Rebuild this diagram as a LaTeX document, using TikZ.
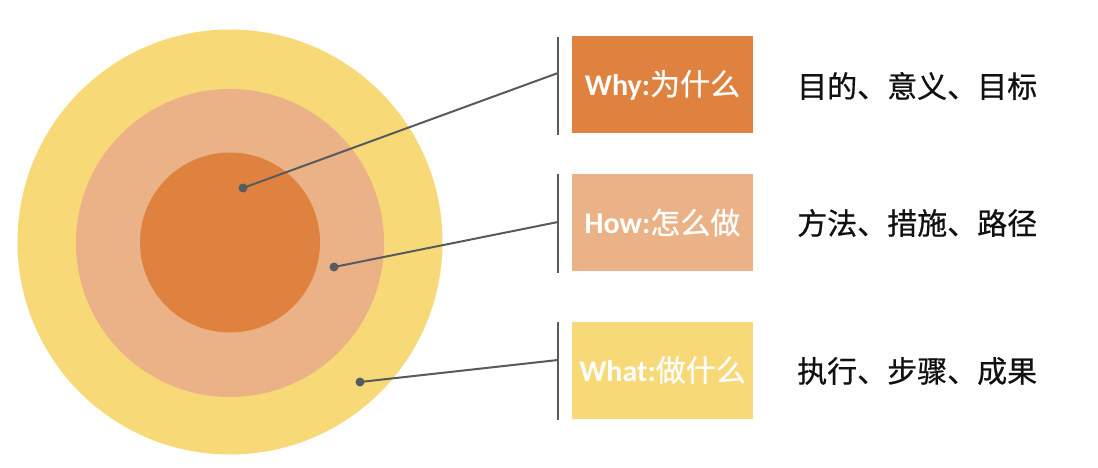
\documentclass[tikz,border=0pt]{standalone}
\usepackage{fontspec}
\setmainfont{Carlito}
\newfontfamily\cjk{Noto Sans CJK SC}[FakeBold=0.6]
\definecolor{cInner}{HTML}{E0823F}
\definecolor{cMid}{HTML}{EBB287}
\definecolor{cOuter}{HTML}{F8D978}
\definecolor{cLine}{HTML}{575B60}
\definecolor{cText}{HTML}{111111}
\begin{document}
\begin{tikzpicture}[x=1pt,y=-1pt,
  ring/.style={circle, inner sep=0pt, draw=none},
  labelbox/.style={rectangle, inner sep=0pt, minimum width=181pt, minimum height=97pt, text=white, font=\fontsize{30}{33}\selectfont},
  desc/.style={anchor=west, inner sep=0pt, text=cText, font=\cjk\fontsize{30}{33}\selectfont},
  conn/.style={draw=cLine, line width=2pt},
  barline/.style={draw=cLine, line width=1.4pt},
  dotmark/.style={circle, fill=cLine, inner sep=0pt, minimum size=9pt}
]
\useasboundingbox[fill=white] (0,0) rectangle (1098,468);
% circles
\node[ring, fill=cOuter, minimum size=425pt] (outer) at (230,242) {};
\node[ring, fill=cMid, minimum size=308pt] (mid) at (230,243) {};
\node[ring, fill=cInner, minimum size=180pt] (inner) at (230,242.5) {};
% boxes
\node[labelbox, fill=cInner] (b1) at (662.5,85) {\textbf{Why:}\cjk 为什么};
\node[labelbox, fill=cMid] (b2) at (662.5,222.5) {\textbf{How:}\cjk 怎么做};
\node[labelbox, fill=cOuter] (b3) at (662.5,370) {\textbf{What:}\cjk 做什么};
% vertical bars
\coordinate (t1) at (558,37); \coordinate (u1) at (558,135);
\coordinate (t2) at (558,174); \coordinate (u2) at (558,273);
\coordinate (t3) at (558,322); \coordinate (u3) at (558,420);
\draw[barline] (t1) -- (u1);
\draw[barline] (t2) -- (u2);
\draw[barline] (t3) -- (u3);
% connector ends
\coordinate (e1) at (558,73);
\coordinate (e2) at (558,222);
\coordinate (e3) at (558,360);
\node[dotmark] (d1) at (243,188) {};
\node[dotmark] (d2) at (334,267) {};
\node[dotmark] (d3) at (360,382) {};
\draw[conn] (d1.center) -- (e1);
\draw[conn] (d2.center) -- (e2);
\draw[conn] (d3.center) -- (e3);
% descriptions
\node[desc] (x1) at (797,86) {目的、意义、目标};
\node[desc] (x2) at (797,223) {方法、措施、路径};
\node[desc] (x3) at (797,371) {执行、步骤、成果};
\end{tikzpicture}
\end{document}
